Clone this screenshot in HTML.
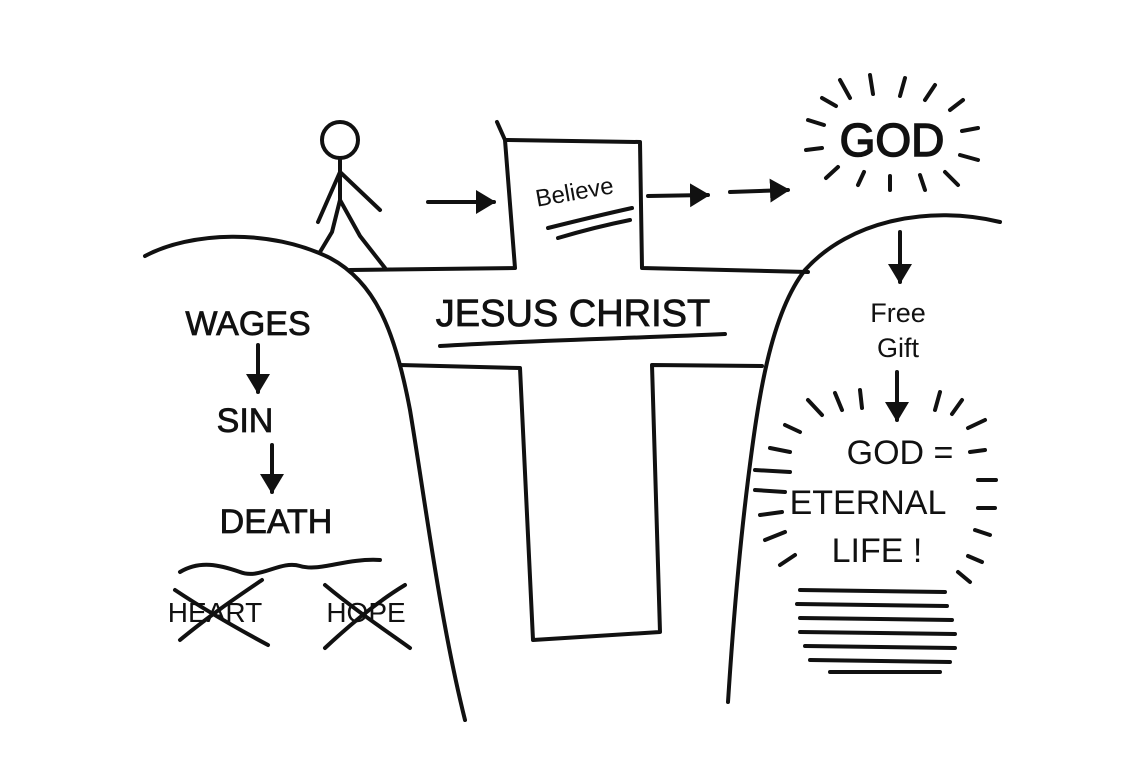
<!DOCTYPE html>
<html><head><style>
html,body{margin:0;padding:0;background:#fff;width:1139px;height:762px;overflow:hidden}
svg{display:block}
text{font-family:"Liberation Sans",sans-serif;fill:#111}
</style></head><body>
<svg width="1139" height="762" viewBox="0 0 1139 762" xmlns="http://www.w3.org/2000/svg">
<defs><marker id="ah" markerWidth="6" markerHeight="6" refX="4.5" refY="3" orient="auto" markerUnits="strokeWidth"><path d="M0,0 L5,3 L0,6 Z" fill="#111"/></marker></defs>
<g fill="none" stroke="#111" stroke-width="4" stroke-linecap="round" stroke-linejoin="round">
<path d="M145,256 C190,232 270,228 330,258 C375,282 395,330 410,410 C425,500 440,620 465,720"/>
<path d="M1000,222 C930,205 850,220 805,270 C770,315 758,400 748,480 C738,560 732,640 728,702"/>
<path d="M497,122 L505,140 L640,142 L642,268 L808,272"/>
<path d="M505,140 L515,268 L350,270"/>
<path d="M400,365 L520,368 L533,640 L660,632 L652,365 L762,366"/>
<circle cx="340" cy="140" r="18"/>
<path d="M340,158 L340,200 M340,172 L318,222 M340,172 L380,210 M340,200 L332,232 L320,252 M340,200 L360,236 L385,268"/>
<path d="M428,202 L494,202" marker-end="url(#ah)"/>
<path d="M648,196 L708,195" marker-end="url(#ah)"/>
<path d="M730,192 L788,190" marker-end="url(#ah)"/>
<path d="M900,232 L900,282" marker-end="url(#ah)"/>
<path d="M258,345 L258,392" marker-end="url(#ah)"/>
<path d="M272,445 L272,492" marker-end="url(#ah)"/>
<path d="M897,372 L897,420" marker-end="url(#ah)"/>
<path d="M440,346 C540,340 640,338 725,334"/>
<path d="M548,228 C580,220 605,214 632,208 M558,238 C585,230 610,224 630,220"/>
<path d="M180,572 C200,560 220,565 240,572 C260,580 280,560 300,566 C320,572 345,558 380,560"/>
<path d="M175,590 C205,610 240,630 268,645 M180,640 C210,615 240,595 262,580"/>
<path d="M325,585 C355,610 385,630 410,648 M325,648 C355,620 380,600 405,585"/>
<path d="M840,80 L850,98 M870,75 L873,94 M905,78 L900,96 M935,85 L925,100 M963,100 L950,110 M978,128 L962,131 M978,160 L960,155 M958,185 L945,172 M925,190 L920,175 M890,190 L890,176 M858,185 L864,172 M826,178 L838,167 M806,150 L822,148 M808,120 L824,125 M822,98 L836,106"/>
<path d="M808,400 L822,415 M835,393 L842,410 M860,390 L862,408 M940,392 L935,410 M962,400 L952,414 M985,420 L968,428 M985,450 L970,452 M996,480 L978,480 M995,508 L978,508 M990,535 L975,530 M982,562 L968,556 M970,582 L958,572 M785,425 L800,432 M770,448 L790,452 M755,470 L790,472 M755,490 L785,492 M760,515 L782,512 M765,540 L785,532 M780,565 L795,555"/>
<path d="M800,590 L945,592 M797,604 L947,606 M800,618 L952,620 M800,632 L955,634 M805,646 L955,648 M810,660 L950,662 M830,672 L940,672"/>
</g>
<text x="892" y="156" font-size="46" text-anchor="middle" stroke="#111" stroke-width="1.5">GOD</text>
<text x="573" y="326" font-size="38" text-anchor="middle" stroke="#111" stroke-width="0.8">JESUS CHRIST</text>
<text x="575" y="200" font-size="24" text-anchor="middle" transform="rotate(-10 575 195)">Believe</text>
<text x="248" y="335" font-size="34" text-anchor="middle" stroke="#111" stroke-width="0.8">WAGES</text>
<text x="245" y="432" font-size="34" text-anchor="middle" stroke="#111" stroke-width="0.8">SIN</text>
<text x="276" y="533" font-size="34" text-anchor="middle" stroke="#111" stroke-width="0.8">DEATH</text>
<text x="215" y="622" font-size="28" text-anchor="middle">HEART</text>
<text x="366" y="622" font-size="28" text-anchor="middle">HOPE</text>
<text x="898" y="322" font-size="27" text-anchor="middle">Free</text>
<text x="898" y="357" font-size="27" text-anchor="middle">Gift</text>
<text x="900" y="464" font-size="34" text-anchor="middle">GOD =</text>
<text x="868" y="514" font-size="34" text-anchor="middle">ETERNAL</text>
<text x="877" y="562" font-size="34" text-anchor="middle">LIFE !</text>
</svg>
</body></html>
